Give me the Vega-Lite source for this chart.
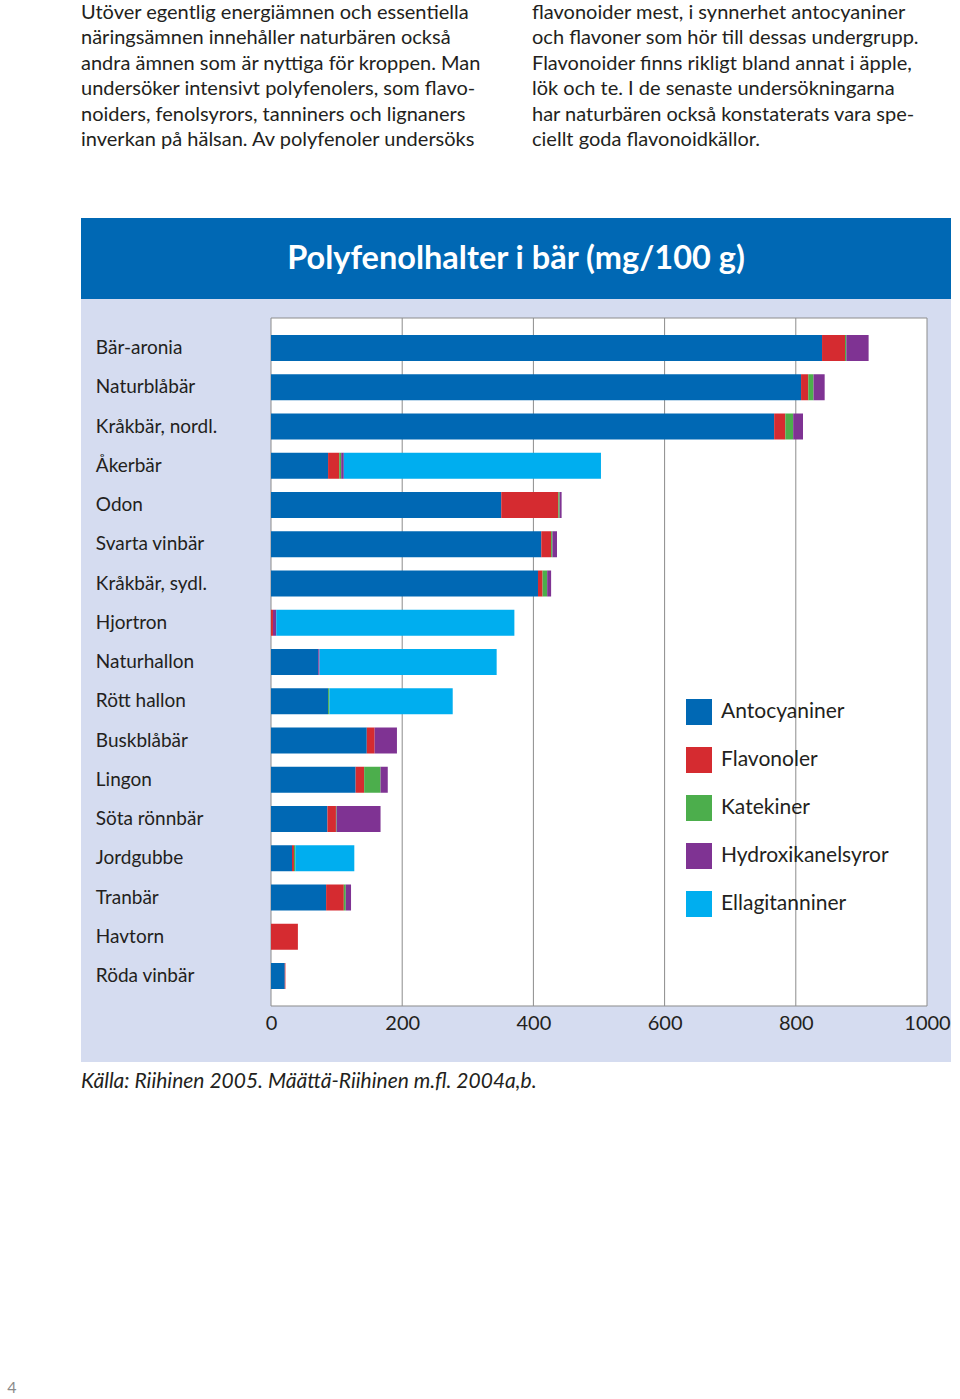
{
  "$schema": "https://vega.github.io/schema/vega-lite/v6.json",
  "background": "white",
  "padding": 0,
  "bounds": "flush",
  "spacing": 57,
  "config": {"view": {"stroke": null}, "font": "Lato"},
  "datasets": {
    "text": [
      {"col": 0, "line": 1, "text": "Utöver egentlig energiämnen och essentiella"},
      {"col": 0, "line": 2, "text": "näringsämnen innehåller naturbären också"},
      {"col": 0, "line": 3, "text": "andra ämnen som är nyttiga för kroppen. Man"},
      {"col": 0, "line": 4, "text": "undersöker intensivt polyfenolers, som flavo-"},
      {"col": 0, "line": 5, "text": "noiders, fenolsyrors, tanniners och lignaners"},
      {"col": 0, "line": 6, "text": "inverkan på hälsan. Av polyfenoler undersöks"},
      {"col": 1, "line": 1, "text": "flavonoider mest, i synnerhet antocyaniner"},
      {"col": 1, "line": 2, "text": "och flavoner som hör till dessas undergrupp."},
      {"col": 1, "line": 3, "text": "Flavonoider finns rikligt bland annat i äpple,"},
      {"col": 1, "line": 4, "text": "lök och te. I de senaste undersökningarna"},
      {"col": 1, "line": 5, "text": "har naturbären också konstaterats vara spe-"},
      {"col": 1, "line": 6, "text": "ciellt goda flavonoidkällor."}
    ],
    "berries": [
      {"berry": "Bär-aronia", "rank": 0},
      {"berry": "Naturblåbär", "rank": 1},
      {"berry": "Kråkbär, nordl.", "rank": 2},
      {"berry": "Åkerbär", "rank": 3},
      {"berry": "Odon", "rank": 4},
      {"berry": "Svarta vinbär", "rank": 5},
      {"berry": "Kråkbär, sydl.", "rank": 6},
      {"berry": "Hjortron", "rank": 7},
      {"berry": "Naturhallon", "rank": 8},
      {"berry": "Rött hallon", "rank": 9},
      {"berry": "Buskblåbär", "rank": 10},
      {"berry": "Lingon", "rank": 11},
      {"berry": "Söta rönnbär", "rank": 12},
      {"berry": "Jordgubbe", "rank": 13},
      {"berry": "Tranbär", "rank": 14},
      {"berry": "Havtorn", "rank": 15},
      {"berry": "Röda vinbär", "rank": 16}
    ],
    "bars": [
      {"berry": "Bär-aronia", "rank": 0, "group": "Antocyaniner", "k": 1, "mg": 840},
      {"berry": "Bär-aronia", "rank": 0, "group": "Flavonoler", "k": 2, "mg": 35},
      {"berry": "Bär-aronia", "rank": 0, "group": "Katekiner", "k": 3, "mg": 2},
      {"berry": "Bär-aronia", "rank": 0, "group": "Hydroxikanelsyror", "k": 4, "mg": 34},
      {"berry": "Naturblåbär", "rank": 1, "group": "Antocyaniner", "k": 1, "mg": 808},
      {"berry": "Naturblåbär", "rank": 1, "group": "Flavonoler", "k": 2, "mg": 11},
      {"berry": "Naturblåbär", "rank": 1, "group": "Katekiner", "k": 3, "mg": 8},
      {"berry": "Naturblåbär", "rank": 1, "group": "Hydroxikanelsyror", "k": 4, "mg": 17},
      {"berry": "Kråkbär, nordl.", "rank": 2, "group": "Antocyaniner", "k": 1, "mg": 767},
      {"berry": "Kråkbär, nordl.", "rank": 2, "group": "Flavonoler", "k": 2, "mg": 17},
      {"berry": "Kråkbär, nordl.", "rank": 2, "group": "Katekiner", "k": 3, "mg": 12},
      {"berry": "Kråkbär, nordl.", "rank": 2, "group": "Hydroxikanelsyror", "k": 4, "mg": 15},
      {"berry": "Åkerbär", "rank": 3, "group": "Antocyaniner", "k": 1, "mg": 87},
      {"berry": "Åkerbär", "rank": 3, "group": "Flavonoler", "k": 2, "mg": 17},
      {"berry": "Åkerbär", "rank": 3, "group": "Katekiner", "k": 3, "mg": 3},
      {"berry": "Åkerbär", "rank": 3, "group": "Hydroxikanelsyror", "k": 4, "mg": 4},
      {"berry": "Åkerbär", "rank": 3, "group": "Ellagitanniner", "k": 5, "mg": 392},
      {"berry": "Odon", "rank": 4, "group": "Antocyaniner", "k": 1, "mg": 351},
      {"berry": "Odon", "rank": 4, "group": "Flavonoler", "k": 2, "mg": 87},
      {"berry": "Odon", "rank": 4, "group": "Katekiner", "k": 3, "mg": 2},
      {"berry": "Odon", "rank": 4, "group": "Hydroxikanelsyror", "k": 4, "mg": 3},
      {"berry": "Svarta vinbär", "rank": 5, "group": "Antocyaniner", "k": 1, "mg": 412},
      {"berry": "Svarta vinbär", "rank": 5, "group": "Flavonoler", "k": 2, "mg": 15},
      {"berry": "Svarta vinbär", "rank": 5, "group": "Katekiner", "k": 3, "mg": 2},
      {"berry": "Svarta vinbär", "rank": 5, "group": "Hydroxikanelsyror", "k": 4, "mg": 7},
      {"berry": "Kråkbär, sydl.", "rank": 6, "group": "Antocyaniner", "k": 1, "mg": 407},
      {"berry": "Kråkbär, sydl.", "rank": 6, "group": "Flavonoler", "k": 2, "mg": 7},
      {"berry": "Kråkbär, sydl.", "rank": 6, "group": "Katekiner", "k": 3, "mg": 7},
      {"berry": "Kråkbär, sydl.", "rank": 6, "group": "Hydroxikanelsyror", "k": 4, "mg": 6},
      {"berry": "Hjortron", "rank": 7, "group": "Flavonoler", "k": 2, "mg": 3},
      {"berry": "Hjortron", "rank": 7, "group": "Hydroxikanelsyror", "k": 4, "mg": 5},
      {"berry": "Hjortron", "rank": 7, "group": "Ellagitanniner", "k": 5, "mg": 363},
      {"berry": "Naturhallon", "rank": 8, "group": "Antocyaniner", "k": 1, "mg": 72},
      {"berry": "Naturhallon", "rank": 8, "group": "Hydroxikanelsyror", "k": 4, "mg": 2},
      {"berry": "Naturhallon", "rank": 8, "group": "Ellagitanniner", "k": 5, "mg": 270},
      {"berry": "Rött hallon", "rank": 9, "group": "Antocyaniner", "k": 1, "mg": 87},
      {"berry": "Rött hallon", "rank": 9, "group": "Katekiner", "k": 3, "mg": 2},
      {"berry": "Rött hallon", "rank": 9, "group": "Ellagitanniner", "k": 5, "mg": 188},
      {"berry": "Buskblåbär", "rank": 10, "group": "Antocyaniner", "k": 1, "mg": 146},
      {"berry": "Buskblåbär", "rank": 10, "group": "Flavonoler", "k": 2, "mg": 12},
      {"berry": "Buskblåbär", "rank": 10, "group": "Hydroxikanelsyror", "k": 4, "mg": 34},
      {"berry": "Lingon", "rank": 11, "group": "Antocyaniner", "k": 1, "mg": 129},
      {"berry": "Lingon", "rank": 11, "group": "Flavonoler", "k": 2, "mg": 13},
      {"berry": "Lingon", "rank": 11, "group": "Katekiner", "k": 3, "mg": 25},
      {"berry": "Lingon", "rank": 11, "group": "Hydroxikanelsyror", "k": 4, "mg": 11},
      {"berry": "Söta rönnbär", "rank": 12, "group": "Antocyaniner", "k": 1, "mg": 86},
      {"berry": "Söta rönnbär", "rank": 12, "group": "Flavonoler", "k": 2, "mg": 13},
      {"berry": "Söta rönnbär", "rank": 12, "group": "Katekiner", "k": 3, "mg": 1},
      {"berry": "Söta rönnbär", "rank": 12, "group": "Hydroxikanelsyror", "k": 4, "mg": 67},
      {"berry": "Jordgubbe", "rank": 13, "group": "Antocyaniner", "k": 1, "mg": 32},
      {"berry": "Jordgubbe", "rank": 13, "group": "Flavonoler", "k": 2, "mg": 3},
      {"berry": "Jordgubbe", "rank": 13, "group": "Katekiner", "k": 3, "mg": 2},
      {"berry": "Jordgubbe", "rank": 13, "group": "Ellagitanniner", "k": 5, "mg": 90},
      {"berry": "Tranbär", "rank": 14, "group": "Antocyaniner", "k": 1, "mg": 84},
      {"berry": "Tranbär", "rank": 14, "group": "Flavonoler", "k": 2, "mg": 27},
      {"berry": "Tranbär", "rank": 14, "group": "Katekiner", "k": 3, "mg": 3},
      {"berry": "Tranbär", "rank": 14, "group": "Hydroxikanelsyror", "k": 4, "mg": 8},
      {"berry": "Havtorn", "rank": 15, "group": "Flavonoler", "k": 2, "mg": 41},
      {"berry": "Röda vinbär", "rank": 16, "group": "Antocyaniner", "k": 1, "mg": 21},
      {"berry": "Röda vinbär", "rank": 16, "group": "Flavonoler", "k": 2, "mg": 1}
    ]
  },
  "hconcat": [
    {
      "width": 24,
      "height": 1399,
      "data": {"values": [{"page": "4"}]},
      "mark": {"type": "text", "fontSize": 16, "color": "#8a8a8a", "font": "Lato", "baseline": "middle", "align": "center"},
      "encoding": {
        "text": {"field": "page"},
        "y": {"field": "page", "type": "nominal", "axis": null, "scale": {"type": "point", "range": [1388, 1388]}}
      }
    },
    {
      "spacing": 0,
      "bounds": "flush",
      "vconcat": [
        {
          "width": 870,
          "height": 218,
          "data": {"name": "text"},
          "mark": {"type": "text", "align": "left", "baseline": "middle", "font": "Lato", "fontSize": 20, "color": "#231f20"},
          "encoding": {
            "x": {"field": "col", "type": "quantitative", "axis": null, "scale": {"domain": [0, 1], "range": [0, 451], "nice": false, "zero": false}},
            "y": {"field": "line", "type": "quantitative", "axis": null, "scale": {"domain": [1, 6], "range": [13, 140], "nice": false, "zero": false}},
            "text": {"field": "text"}
          }
        },
        {
          "width": 870,
          "height": 81,
          "view": {"fill": "#0068b4", "stroke": null},
          "data": {"values": [{"t": "Polyfenolhalter i bär (mg/100 g)"}]},
          "mark": {"type": "text", "font": "Lato", "fontWeight": "bold", "fontSize": 32.5, "color": "white", "align": "center", "baseline": "middle"},
          "encoding": {"text": {"field": "t"}}
        },
        {
          "width": 870,
          "height": 763,
          "view": {"fill": "#d5dcf0", "stroke": null},
          "layer": [
            {
              "data": {"values": [{}]},
              "mark": {"type": "rect", "fill": "white", "stroke": "#8c8c8c", "strokeWidth": 1},
              "encoding": {
                "x": {"datum": 0, "type": "quantitative", "scale": {"domain": [0, 1000], "range": [190, 846], "nice": false, "zero": false, "padding": 0},
                  "axis": {"orient": "bottom", "values": [0, 200, 400, 600, 800, 1000], "format": "d", "offset": -56, "domain": false, "ticks": false, "tickSize": 0, "grid": false, "title": null, "labelFont": "Lato", "labelFontSize": 20, "labelColor": "#231f20", "labelPadding": 7, "labelFlush": false, "labelOverlap": false, "labelBound": false}},
                "x2": {"datum": 1000},
                "y": {"datum": -0.764, "type": "quantitative", "axis": null, "scale": {"domain": [0, 16], "range": [49, 677], "nice": false, "zero": false, "padding": 0}},
                "y2": {"datum": 16.764}
              }
            },
            {
              "data": {"values": [{"g": 200}, {"g": 400}, {"g": 600}, {"g": 800}]},
              "mark": {"type": "rule", "color": "#8c8c8c", "strokeWidth": 1},
              "encoding": {
                "x": {"field": "g", "type": "quantitative", "scale": {"domain": [0, 1000], "range": [190, 846], "nice": false, "zero": false, "padding": 0},
                  "axis": {"orient": "bottom", "values": [0, 200, 400, 600, 800, 1000], "format": "d", "offset": -56, "domain": false, "ticks": false, "tickSize": 0, "grid": false, "title": null, "labelFont": "Lato", "labelFontSize": 20, "labelColor": "#231f20", "labelPadding": 7, "labelFlush": false, "labelOverlap": false, "labelBound": false}},
                "y": {"datum": -0.764, "type": "quantitative", "axis": null, "scale": {"domain": [0, 16], "range": [49, 677], "nice": false, "zero": false, "padding": 0}},
                "y2": {"datum": 16.764}
              }
            },
            {
              "data": {"name": "bars"},
              "mark": {"type": "bar", "orient": "horizontal", "size": 26},
              "encoding": {
                "x": {
                  "field": "mg", "type": "quantitative", "stack": "zero",
                  "scale": {"domain": [0, 1000], "range": [190, 846], "nice": false, "zero": false, "padding": 0},
                  "axis": {"orient": "bottom", "values": [0, 200, 400, 600, 800, 1000], "format": "d", "offset": -56, "domain": false, "ticks": false, "tickSize": 0, "grid": false, "title": null, "labelFont": "Lato", "labelFontSize": 20, "labelColor": "#231f20", "labelPadding": 7, "labelFlush": false, "labelOverlap": false, "labelBound": false}
                },
                "y": {"field": "rank", "type": "quantitative", "axis": null, "scale": {"domain": [0, 16], "range": [49, 677], "nice": false, "zero": false, "padding": 0}},
                "color": {
                  "field": "group", "type": "nominal",
                  "scale": {"domain": ["Antocyaniner", "Flavonoler", "Katekiner", "Hydroxikanelsyror", "Ellagitanniner"], "range": ["#0068b4", "#d52b30", "#4cae4c", "#7f3393", "#00aeef"]},
                  "legend": {"orient": "none", "legendX": 686, "legendY": 699, "title": null, "symbolType": "square", "symbolSize": 676, "symbolStrokeWidth": 0, "symbolOpacity": 1, "labelFont": "Lato", "labelFontSize": 21, "labelColor": "#231f20", "labelLimit": 400, "rowPadding": 22, "labelOffset": 9, "padding": 0}
                },
                "order": {"field": "k", "type": "quantitative"}
              }
            },
            {
              "data": {"name": "berries"},
              "mark": {"type": "text", "align": "left", "baseline": "middle", "font": "Lato", "fontSize": 19, "color": "#231f20"},
              "encoding": {
                "x": {"datum": -267, "type": "quantitative", "scale": {"domain": [0, 1000], "range": [190, 846], "nice": false, "zero": false, "padding": 0},
                  "axis": {"orient": "bottom", "values": [0, 200, 400, 600, 800, 1000], "format": "d", "offset": -56, "domain": false, "ticks": false, "tickSize": 0, "grid": false, "title": null, "labelFont": "Lato", "labelFontSize": 20, "labelColor": "#231f20", "labelPadding": 7, "labelFlush": false, "labelOverlap": false, "labelBound": false}},
                "y": {"field": "rank", "type": "quantitative", "axis": null, "scale": {"domain": [0, 16], "range": [49, 677], "nice": false, "zero": false, "padding": 0}},
                "text": {"field": "berry"}
              }
            }
          ]
        },
        {
          "width": 870,
          "height": 337,
          "data": {"values": [{"source": "Källa: Riihinen 2005. Määttä-Riihinen m.fl. 2004a,b."}]},
          "mark": {"type": "text", "align": "left", "baseline": "middle", "font": "Lato", "fontStyle": "italic", "fontSize": 21, "color": "#231f20"},
          "encoding": {
            "text": {"field": "source"},
            "x": {"field": "source", "type": "nominal", "axis": null, "scale": {"type": "point", "range": [0, 0]}},
            "y": {"field": "source", "type": "nominal", "axis": null, "scale": {"type": "point", "range": [20, 20]}}
          }
        }
      ]
    }
  ]
}
